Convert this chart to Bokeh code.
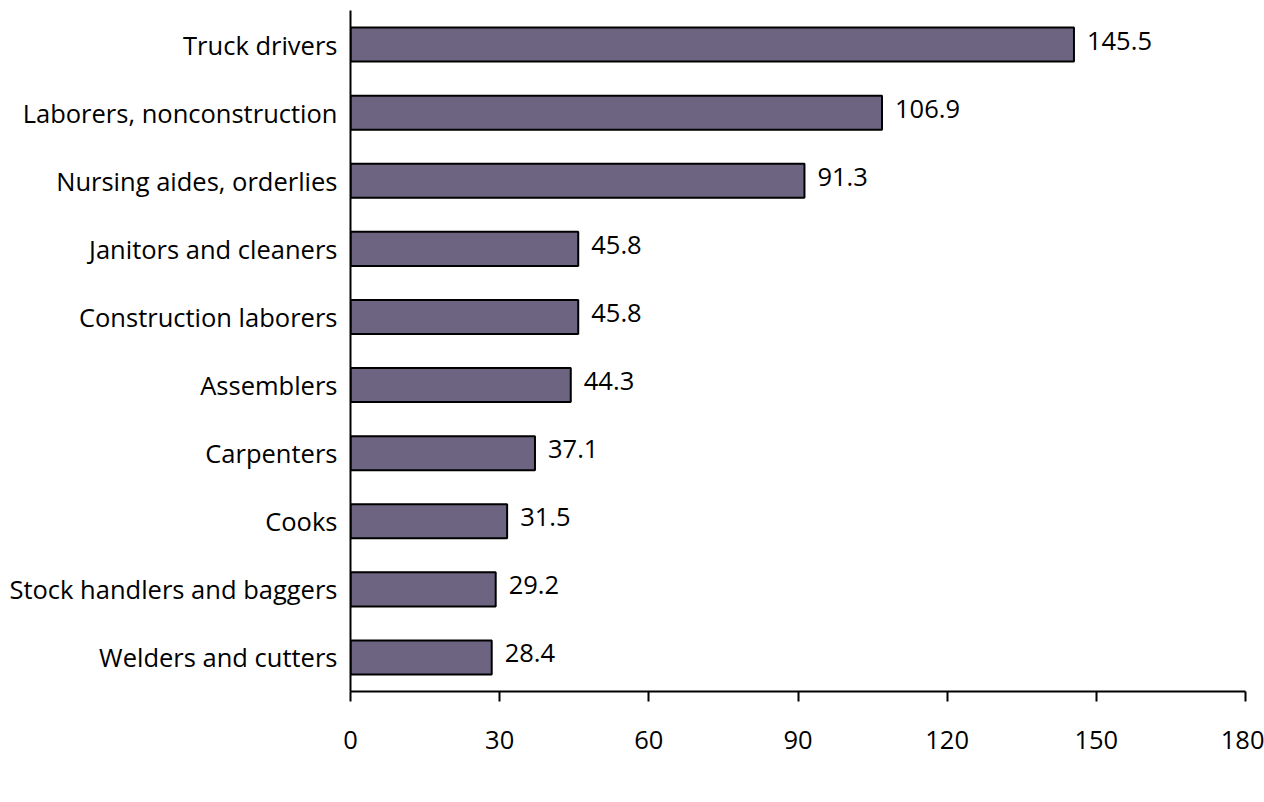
from bokeh.plotting import figure
from bokeh.models import ColumnDataSource, FactorRange, Range1d, FixedTicker, LabelSet, Label
from bokeh.core.properties import value
from bokeh.embed import file_html
from bokeh.resources import INLINE

categories = ["Truck drivers", "Laborers, nonconstruction", "Nursing aides, orderlies",
              "Janitors and cleaners", "Construction laborers", "Assemblers",
              "Carpenters", "Cooks", "Stock handlers and baggers", "Welders and cutters"]
values = [145.5, 106.9, 91.3, 45.8, 45.8, 44.3, 37.1, 31.5, 29.2, 28.4]
value_labels = ["145.5", "106.9", "91.3", "45.8", "45.8", "44.3", "37.1", "31.5", "29.2", "28.4"]
x_ticks = [0, 30, 60, 90, 120, 150, 180]
x_title = "Injuries and illnesses (thousands)"

FONT = "Open Sans"
FS = "25.5px"

src = ColumnDataSource(dict(cat=categories, val=values, lab=value_labels))

p = figure(width=1264, height=802, output_backend="svg", toolbar_location=None,
           y_range=FactorRange(factors=list(reversed(categories)), range_padding=0),
           x_range=Range1d(0, 180),
           min_border_left=350, min_border_right=19, min_border_top=10, min_border_bottom=111)

p.hbar(y="cat", right="val", left=0, height=0.5, source=src,
       fill_color="#6c6480", line_color="black", line_width=2)

labels = LabelSet(x="val", y="cat", text="lab", source=src, x_offset=13, y_offset=4,
                  text_baseline="middle", text_font=value(FONT), text_font_size=value(FS),
                  text_color="black")
p.add_layout(labels)

p.grid.visible = False
p.outline_line_color = None
p.background_fill_color = "white"

xa = p.xaxis[0]
xa.ticker = FixedTicker(ticks=x_ticks)
xa.major_label_text_font = FONT
xa.major_label_text_font_size = FS
xa.major_label_text_color = "black"
xa.major_label_standoff = 29
xa.major_tick_in = 0
xa.major_tick_out = 10
xa.minor_tick_in = 0
xa.minor_tick_out = 0
xa.axis_line_width = 2
xa.major_tick_line_width = 2
xa.axis_line_color = "black"
xa.major_tick_line_color = "black"

xt = Label(x=226, y=-96, x_units="screen", y_units="screen", text=x_title,
           text_font=FONT, text_font_size=FS, text_color="black",
           text_align="left", text_baseline="middle")
p.add_layout(xt)

ya = p.yaxis[0]
ya.major_tick_in = 0
ya.major_tick_out = 0
ya.minor_tick_out = 0
ya.major_label_standoff = 13
ya.major_label_text_font = FONT
ya.major_label_text_font_size = FS
ya.major_label_text_color = "black"
ya.axis_line_width = 2
ya.axis_line_color = "black"

open("out.html", "w").write(file_html(p, INLINE))
